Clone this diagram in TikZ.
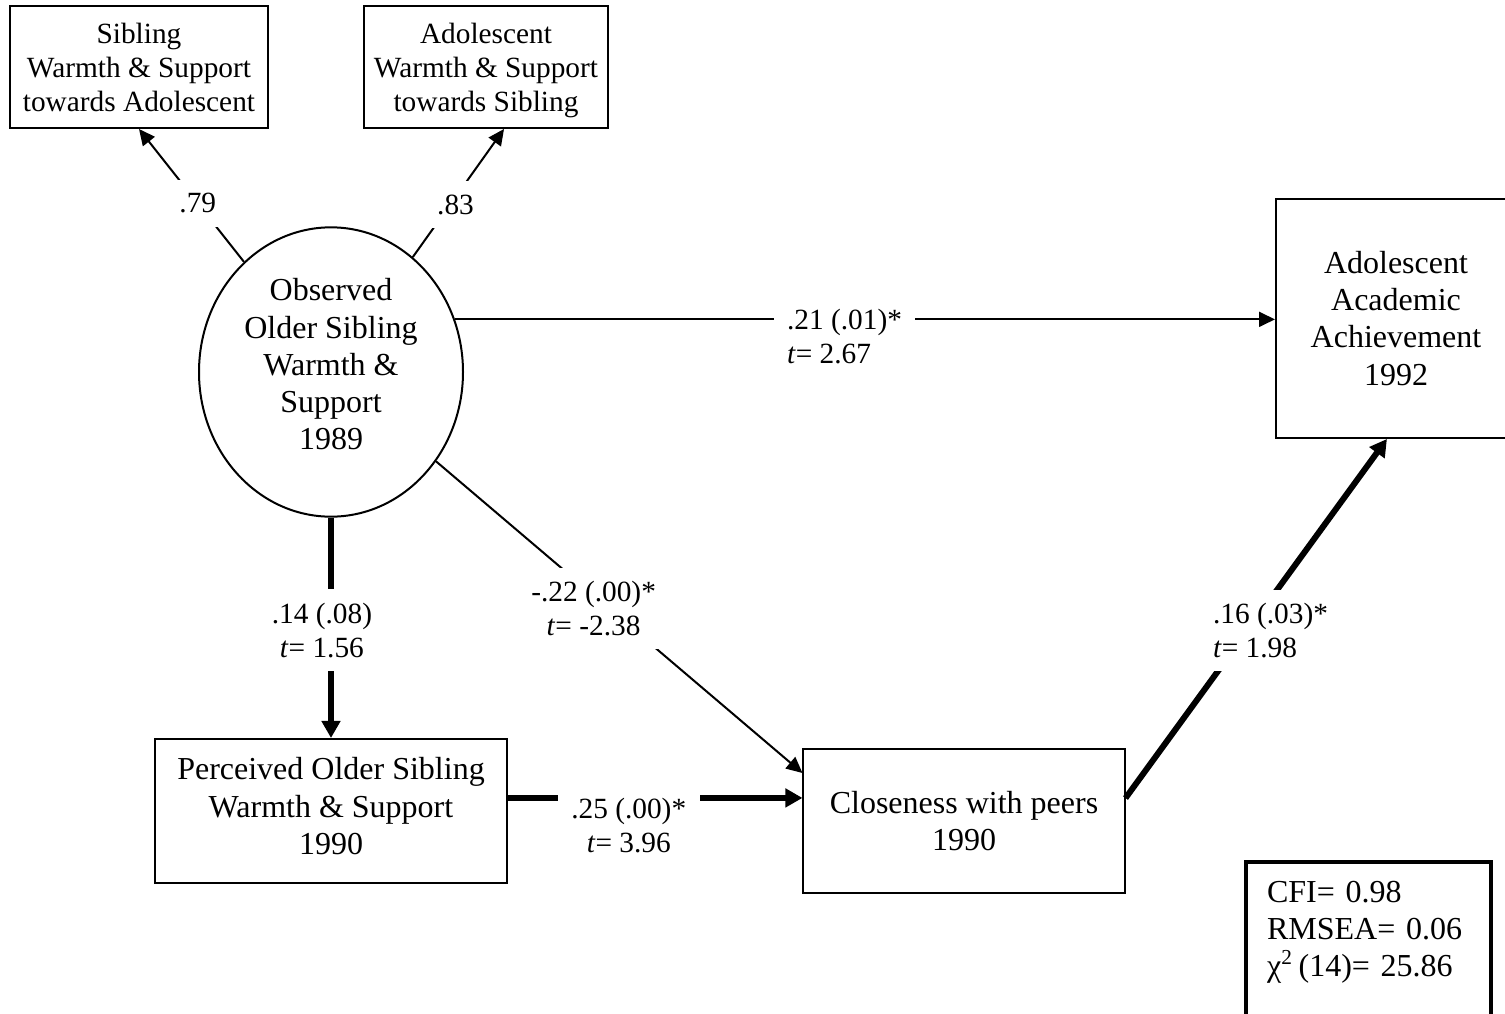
\documentclass[tikz,border=0pt]{standalone}
\usepackage{fontspec}
\setmainfont{Liberation Serif}
\usetikzlibrary{arrows.meta,shapes.geometric}

\begin{document}
\begin{tikzpicture}[x=0.375pt, y=-0.375pt,
                    main node/.style={draw,line width=0.75pt,align=center,inner sep=0pt,font=\fontsize{12}{13.9}\selectfont},
                    small node/.style={main node,font=\fontsize{11}{12.75}\selectfont},
                    latent node/.style={main node,ellipse,minimum width=99pt,minimum height=108.5pt},
                    weight/.style={fill=white,inner xsep=5pt,inner ysep=5pt,font=\fontsize{11}{12.75}\selectfont},
                    weak path/.style={line width=0.75pt,-{Triangle[length=6pt,width=5.6pt]}},
                    strong path/.style={line width=2.25pt,-{Triangle[length=6.4pt,width=6.8pt]}}]

  \useasboundingbox (0,0) rectangle (1505,1014);
  \clip (0,0) rectangle (1505,1014);

  \node[latent node,text depth=6pt] (1) at (331,372) {Observed\\Older Sibling\\Warmth \&\\Support\\1989};
  \node[small node,minimum width=96.75pt,minimum height=45.75pt] (2) at (139,67) {Sibling\\Warmth \& Support\\towards Adolescent};
  \node[small node,minimum width=91.5pt,minimum height=45.75pt,text depth=0pt] (3) at (486,67) {Adolescent\\Warmth \& Support\\towards Sibling};
  \node[main node,minimum width=90pt,minimum height=89.6pt] (4) at (1396,318.5) {Adolescent\\Academic\\Achievement\\1992};
  \node[main node,minimum width=132pt,minimum height=54pt,text depth=3.8pt] (5) at (331,811) {Perceived Older Sibling\\Warmth \& Support\\1990};
  \node[main node,minimum width=120.4pt,minimum height=54pt] (6) at (964,821) {Closeness with peers\\1990};
  \node[main node,line width=1.5pt,align=left,anchor=north west,inner xsep=7.9pt,inner ysep=0pt,
        text width=76.1pt,minimum height=63.75pt] (7) at (1244,860) {CFI= 0.98\\RMSEA= 0.06\\χ\textsuperscript{2}\,(14)= 25.86\\ \mbox{}};

  \coordinate (p) at ([yshift=4.9pt]5.east);
  \coordinate (q) at ([yshift=8.6pt]6.east);

  \path[weak path]
    (1) edge node[weight,pos=0.44] {.79} (2.south)
    (1) edge node[weight,pos=0.41,xshift=2pt] {.83} ([xshift=6.75pt]3.south)
    (1.23) edge node[weight,align=left,pos=0.475,yshift=-6.4pt] {.21 (.01)*\\ \textit{t}= 2.67} (1.23 -| 4.west)
    (1) edge node[weight,align=center,pos=0.43,yshift=-4.9pt] {-.22 (.00)*\\\textit{t}= -2.38} ([yshift=18pt]6.west);

  \path[strong path]
    (1.south) edge node[weight,align=center,pos=0.51,xshift=-3.4pt] {.14 (.08)\\ \textit{t}= 1.56} (1.south |- 5.north)
    (p) edge node[weight,align=center,pos=0.41,yshift=-10.5pt] {.25 (.00)*\\\textit{t}= 3.96} (p -| 6.west)
    (q) edge node[weight,align=left,pos=0.467,xshift=8.6pt] {.16 (.03)*\\\textit{t}= 1.98} ([xshift=-3.4pt]4.south);
\end{tikzpicture}
\end{document}
